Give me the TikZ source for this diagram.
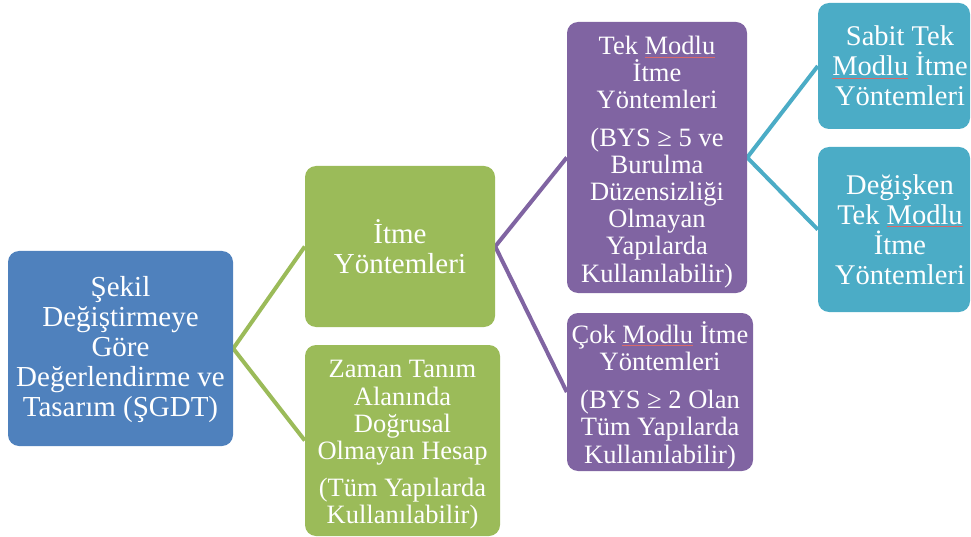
\documentclass[tikz,border=0pt]{standalone}
\usepackage{fontspec}
\setmainfont{Liberation Serif}
\usetikzlibrary{backgrounds}
\definecolor{cblue}{HTML}{4F81BD}
\definecolor{cgreen}{HTML}{9BBB59}
\definecolor{cpurple}{HTML}{8064A2}
\definecolor{cteal}{HTML}{4BACC6}
\definecolor{cspell}{HTML}{D86A6A}
\newcommand{\redul}[1]{\leavevmode\setbox0\hbox{#1}\rlap{\color{cspell}\rule[-2.8pt]{\wd0}{0.6pt}}\box0\relax}
\tikzset{
  box/.style={rounded corners=11pt, inner sep=0pt, anchor=center},
  txt/.style={inner sep=0pt, text=white, align=center, anchor=center},
  froot/.style={font=\fontsize{29}{30}\selectfont},
  fgreen/.style={font=\fontsize{29}{30}\selectfont},
  fteal/.style={font=\fontsize{28.5}{30}\selectfont},
  fpar/.style={font=\fontsize{26.5}{27.2}\selectfont},
  conn/.style={line width=4pt},
}
\begin{document}
\begin{tikzpicture}[x=1pt,y=-1pt]
\useasboundingbox (0,0) rectangle (971,537);
% boxes
\node[box, fill=cblue, minimum width=225pt, minimum height=195pt] (root) at (120.5,348.5) {};
\node[box, fill=cgreen, minimum width=190pt, minimum height=161pt] (gtop) at (400,246.5) {};
\node[box, fill=cgreen, minimum width=195pt, minimum height=191pt] (gbot) at (402.5,440.5) {};
\node[box, fill=cpurple, minimum width=180pt, minimum height=271pt] (ptop) at (657,157.5) {};
\node[box, fill=cpurple, minimum width=186pt, minimum height=158pt] (pbot) at (660,392) {};
\node[box, fill=cteal, minimum width=152pt, minimum height=126pt] (ttop) at (894,66) {};
\node[box, fill=cteal, minimum width=152pt, minimum height=165pt] (tbot) at (894,229.5) {};
% texts
\node[txt, froot] (rootT) at (120.5,350)
  {Şekil\\Değiştirmeye\\Göre\\Değerlendirme ve\\Tasarım (ŞGDT)};
\node[txt, fgreen] (gtopT) at (400,246.5) {İtme\\Yöntemleri};
\node[txt, fpar] (gbotT) at (402.5,445)
  {Zaman Tanım\\Alanında\\Doğrusal\\Olmayan Hesap\\[10pt](Tüm Yapılarda\\Kullanılabilir)};
\node[txt, fpar] (ptopT) at (657,162)
  {Tek \redul{Modlu}\\İtme\\Yöntemleri\\[10pt](BYS ≥ 5 ve\\Burulma\\Düzensizliği\\Olmayan\\Yapılarda\\Kullanılabilir)};
\node[txt, fpar] (pbotT) at (660,395)
  {Çok \redul{Modlu} İtme\\Yöntemleri\\[11pt](BYS ≥ 2 Olan\\Tüm Yapılarda\\Kullanılabilir)};
\node[txt, fteal] (ttopT) at (900,66) {Sabit Tek\\\redul{Modlu} İtme\\Yöntemleri};
\node[txt, fteal] (tbotT) at (900,229.5) {Değişken\\Tek \redul{Modlu}\\İtme\\Yöntemleri};
% connectors
\begin{scope}[on background layer]
\draw[conn, cgreen] (gtop.west) -- (root.east) -- (gbot.west);
\draw[conn, cpurple] (ptop.west) -- (gtop.east) -- (pbot.west);
\draw[conn, cteal] (ttop.west) -- (ptop.east) -- (tbot.west);
\end{scope}
\end{tikzpicture}
\end{document}
